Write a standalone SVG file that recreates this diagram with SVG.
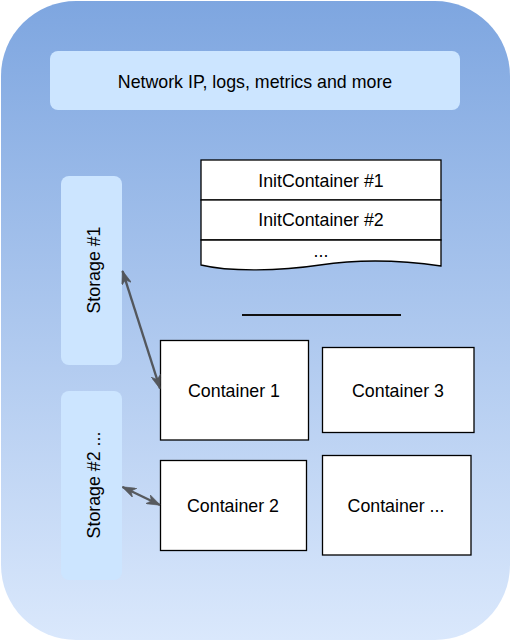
<svg xmlns="http://www.w3.org/2000/svg" width="511" height="641" viewBox="0 0 511 641">
<defs>
<linearGradient id="bg" x1="0" y1="0" x2="0" y2="1">
<stop offset="0" stop-color="#7EA6E0"/>
<stop offset="1" stop-color="#DAE8FC"/>
</linearGradient>
<marker id="arr" viewBox="0 0 14 10" refX="13.5" refY="5" markerWidth="14" markerHeight="10" orient="auto-start-reverse" markerUnits="userSpaceOnUse">
<path d="M0,0 L14,5 L0,10 L4,5 Z" fill="#444" stroke="#444" stroke-width="0.6" stroke-linejoin="miter"/>
</marker>
<style>
text{font-family:"Liberation Sans",Arial,sans-serif;font-size:17.8px;fill:#000;text-anchor:middle}
.lt{fill:#CCE5FF;stroke:none}
.box{fill:#fff;stroke:#000;stroke-width:1.3}
.conn{stroke:#444;stroke-width:2.4;fill:none;opacity:0.85}
</style>
</defs>
<g id="pod">
<rect x="1" y="1" width="509" height="639" rx="75" ry="75" fill="url(#bg)"/>
</g>
<g id="network">
<rect class="lt" x="50" y="51" width="410" height="59" rx="8"/>
<text x="255" y="88">Network IP, logs, metrics and more</text>
</g>
<g id="initcontainers">
<rect class="box" x="201" y="160" width="240" height="40"/>
<text x="321" y="187">InitContainer #1</text>
<rect class="box" x="201" y="200" width="240" height="40"/>
<text x="321" y="226">InitContainer #2</text>
<path class="box" d="M201,240 L441,240 L441,266 C400,260 360,259 320,265 C280,271 230,272 201,265 Z"/>
<text x="321" y="257">...</text>
</g>
<g id="divider">
<line x1="242" y1="315" x2="401" y2="315" stroke="#111" stroke-width="2"/>
</g>
<g id="storage1">
<rect class="lt" x="61" y="176" width="61" height="189" rx="8"/>
<text transform="translate(100,270) rotate(-90)">Storage #1</text>
</g>
<g id="storage2">
<rect class="lt" x="61" y="391" width="61" height="189" rx="8"/>
<text transform="translate(100,485) rotate(-90)">Storage #2 ...</text>
</g>
<g id="container1">
<rect class="box" x="160.5" y="340.5" width="148" height="99.5"/>
<text x="234" y="397">Container 1</text>
</g>
<g id="container3">
<rect class="box" x="322.5" y="347.5" width="151.5" height="85" stroke="#555"/>
<text x="398" y="397">Container 3</text>
</g>
<g id="container2">
<rect class="box" x="160.5" y="460.5" width="146" height="90"/>
<text x="233" y="512">Container 2</text>
</g>
<g id="containerN">
<rect class="box" x="322.5" y="455.5" width="148.5" height="99.5" stroke="#333"/>
<text x="396" y="512">Container ...</text>
</g>
<g id="connectors">
<line class="conn" x1="122.5" y1="271" x2="160" y2="388.5" marker-start="url(#arr)" marker-end="url(#arr)"/>
<line class="conn" x1="122.5" y1="487" x2="160" y2="505" marker-start="url(#arr)" marker-end="url(#arr)"/>
</g>
</svg>
